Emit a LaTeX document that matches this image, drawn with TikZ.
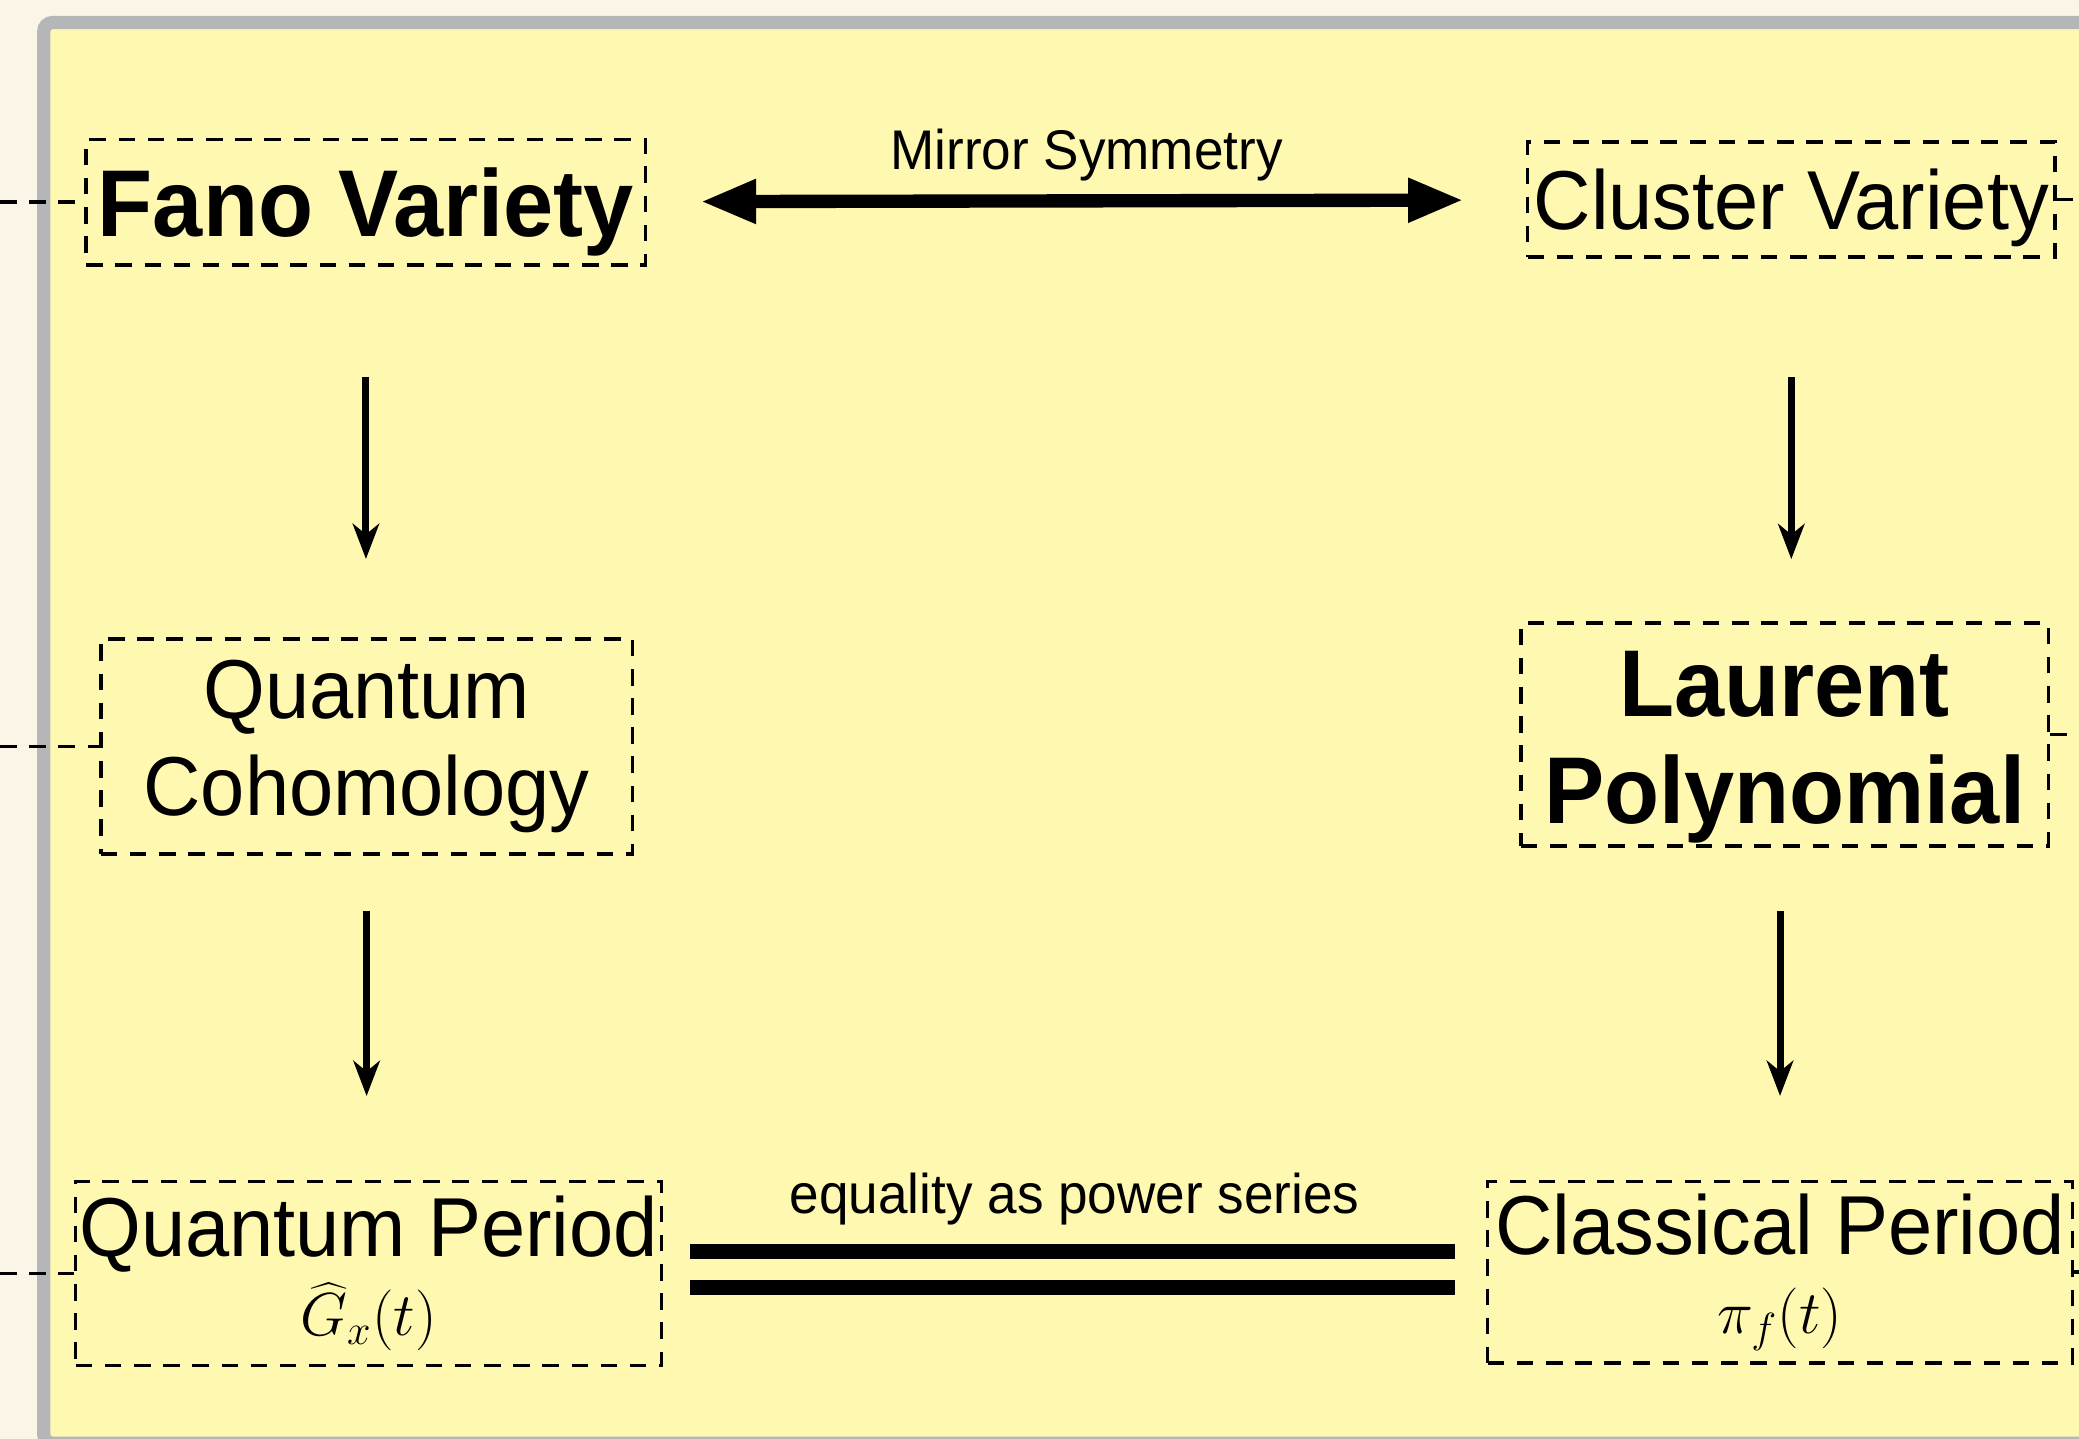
\documentclass[tikz,border=0pt]{standalone}
\usepackage[no-math]{fontspec}
\setmainfont{Liberation Sans}[FakeStretch=0.95]
\usepackage{xcolor}
\usepackage{tikz}
\usetikzlibrary{arrows.meta}

\definecolor{bgcream}{RGB}{251,245,232}
\definecolor{panelyellow}{RGB}{255,248,176}
\definecolor{panelgray}{RGB}{181,182,184}

\begin{document}
\begin{tikzpicture}[x=0.013259cm,y=-0.013259cm,
  box/.style={draw,line width=1pt,dash pattern=on 4.7pt off 3.6pt,inner sep=0pt,align=center},
  link/.style={line width=1pt,dash pattern=on 4.7pt off 3.6pt},
  rfont/.style={font=\fontsize{23.8}{27.5}\selectfont},
  bfont/.style={font=\fontsize{27}{30.5}\selectfont\bfseries},
  lbl/.style={font=\fontsize{15.9}{18}\selectfont,inner sep=0pt},
  down/.style={-{Stealth[length=10pt,width=7.5pt,inset=3pt]},line width=2pt},
  mirror/.style={{Triangle[length=15.8pt,width=11.7pt]}-{Triangle[length=15.8pt,width=11.7pt]},line width=3.8pt},
  eqline/.style={line width=4.2pt,shorten <=7.5pt,shorten >=8.7pt}]
\useasboundingbox (0,0) rectangle (1568,1085);
\fill[bgcream] (0,0) rectangle (1568,1085);
\clip (0,0) rectangle (1568,1085);
\draw[panelgray,line width=3.77pt,fill=panelyellow,rounded corners=2.5pt] (33,17) rectangle (1700,1088.5);
\coordinate (edgeL) at (0,0);
\coordinate (edgeR) at (1568,0);

% left column
\node[box,bfont,text depth=0pt,minimum width=159.2pt,minimum height=35.8pt] (fano) at (276,152.5) {Fano Variety};
\node[box,rfont,minimum width=151.3pt,minimum height=61.1pt] (qcoh) at (276.5,563) {Quantum\\Cohomology};
\node[box,font=\fontsize{23.8}{22.4}\selectfont,minimum width=166.7pt,minimum height=52.4pt] (qper) at (278,960.5)
  {Quantum Period\\{\fontsize{18.5}{23}\selectfont$\widehat{G}_x(t)$}};

% right column
\node[box,rfont,text depth=0pt,minimum width=150.1pt,minimum height=32.8pt] (cluster) at (1351,150.5) {Cluster Variety};
\node[box,bfont,minimum width=150.1pt,minimum height=63.4pt] (laurent) at (1346,554) {\rule{0pt}{26pt}Laurent\\Polynomial};
\node[box,font=\fontsize{23.8}{22.4}\selectfont,minimum width=166.4pt,minimum height=51.7pt] (cper) at (1342.5,959.5)
  {Classical Period\\{\fontsize{18.5}{23}\selectfont$\pi_f(t)$}};

% connectors
\draw[mirror,shorten <=15.1pt,shorten >=17.7pt] (fano) -- node[lbl,above=3.8pt]{Mirror Symmetry} (cluster);
\draw[eqline] ([yshift=6.2pt]qper.east) -- node[lbl,above=5.5pt]{equality as power series} ([yshift=6.2pt]qper.east -| cper.west);
\draw[eqline] ([yshift=-4pt]qper.east) -- ([yshift=-4pt]qper.east -| cper.west);
\draw[down,shorten <=31.3pt,shorten >=22.3pt] (fano.south) -- (fano.south |- qcoh.north);
\draw[down,shorten <=15.8pt,shorten >=23.8pt] (qcoh.south) -- (qcoh.south |- qper.north);
\draw[down,shorten <=33.6pt,shorten >=17.7pt] (cluster.south) -- (cluster.south |- laurent.north);
\draw[down,shorten <=18.1pt,shorten >=23.8pt] (cper.north |- laurent.south) -- (cper.north);

% links leaving the picture
\draw[link] (edgeL |- fano.west) -- (fano.west);
\draw[link] (edgeL |- qcoh.west) -- (qcoh.west);
\draw[link] (edgeL |- qper.west) -- (qper.west);
\draw[link] (cluster.east) -- (cluster.east -| edgeR);
\draw[link] (laurent.east) -- (laurent.east -| edgeR);
\draw[link] (cper.east) -- (cper.east -| edgeR);
\end{tikzpicture}
\end{document}
